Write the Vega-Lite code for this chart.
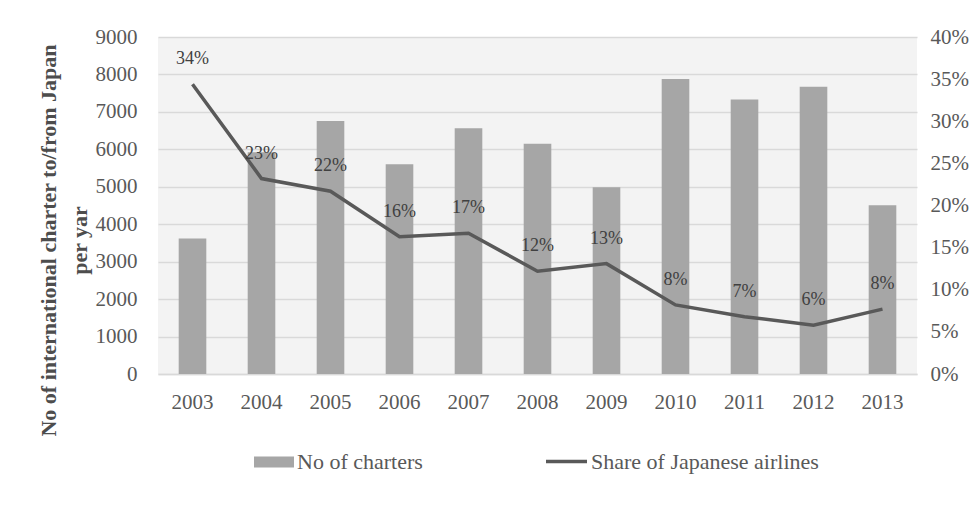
{
  "$schema": "https://vega.github.io/schema/vega-lite/v6.json",
  "width": 759,
  "height": 337,
  "autosize": {"type": "none"},
  "padding": {"left": 158, "top": 37, "right": 62, "bottom": 143},
  "background": "white",
  "config": {
    "font": "Liberation Serif",
    "view": {"stroke": null, "fill": "#f3f3f3"}
  },
  "data": {
    "values": [
      {"year": "2003", "charters": 3620, "share": 0.344},
      {"year": "2004", "charters": 5920, "share": 0.232},
      {"year": "2005", "charters": 6760, "share": 0.217},
      {"year": "2006", "charters": 5600, "share": 0.163},
      {"year": "2007", "charters": 6560, "share": 0.167},
      {"year": "2008", "charters": 6150, "share": 0.122},
      {"year": "2009", "charters": 4990, "share": 0.131},
      {"year": "2010", "charters": 7880, "share": 0.082},
      {"year": "2011", "charters": 7330, "share": 0.068},
      {"year": "2012", "charters": 7670, "share": 0.058},
      {"year": "2013", "charters": 4510, "share": 0.077}
    ]
  },
  "encoding": {
    "x": {
      "field": "year",
      "type": "ordinal",
      "scale": {"paddingInner": 0.6, "paddingOuter": 0.3},
      "axis": {
        "title": null,
        "labelAngle": 0,
        "labelFontSize": 21,
        "labelColor": "#595959",
        "labelPadding": 17,
        "ticks": false,
        "tickSize": 0,
        "domain": true,
        "domainColor": "#d9d9d9",
        "domainWidth": 1.5,
        "grid": false
      }
    }
  },
  "layer": [
    {
      "mark": {"type": "bar"},
      "encoding": {
        "y": {
          "field": "charters",
          "type": "quantitative",
          "scale": {"domain": [0, 9000], "nice": false},
          "axis": {
            "orient": "left",
            "values": [0, 1000, 2000, 3000, 4000, 5000, 6000, 7000, 8000, 9000],
            "format": "d",
            "grid": true,
            "gridColor": "#d9d9d9",
            "gridWidth": 1.5,
            "domain": false,
            "ticks": false,
            "tickSize": 0,
            "labelPadding": 21,
            "labelFontSize": 21,
            "labelColor": "#595959",
            "title": ["No of international charter to/from Japan", "per yar"],
            "titleFontSize": 22,
            "titleFontWeight": "bold",
            "titleColor": "#4d4d4d",
            "titleLineHeight": 31,
            "titleAngle": -90,
            "titleAlign": "center",
            "titleBaseline": "middle",
            "titleX": -110,
            "titleY": 203
          }
        },
        "fill": {
          "datum": "No of charters",
          "type": "nominal",
          "scale": {"range": ["#a6a6a6"]},
          "legend": {
            "title": null,
            "orient": "none",
            "legendX": 96,
            "legendY": 405,
            "padding": 0,
            "symbolType": "M-1,-0.275H1V0.275H-1Z",
            "symbolSize": 1600,
            "symbolStrokeWidth": 0,
            "labelFont": "Liberation Serif",
            "labelFontSize": 22,
            "labelColor": "#595959",
            "labelOffset": 3,
            "labelLimit": 400
          }
        }
      }
    },
    {
      "encoding": {
        "y": {
          "field": "share",
          "type": "quantitative",
          "scale": {"domain": [0, 0.4], "nice": false},
          "axis": {
            "orient": "right",
            "values": [0, 0.05, 0.1, 0.15, 0.2, 0.25, 0.3, 0.35, 0.4],
            "format": ".0%",
            "grid": false,
            "domain": false,
            "ticks": false,
            "tickSize": 0,
            "labelPadding": 13,
            "labelFontSize": 21,
            "labelColor": "#595959",
            "title": null
          }
        }
      },
      "layer": [
        {
          "mark": {"type": "line", "strokeWidth": 3.5},
          "encoding": {
            "stroke": {
              "datum": "Share of  Japanese airlines",
              "type": "nominal",
              "scale": {"range": ["#595959"]},
              "legend": {
                "title": null,
                "orient": "none",
                "legendX": 386,
                "legendY": 402,
                "padding": 0,
                "symbolType": "stroke",
                "symbolSize": 1681,
                "symbolStrokeWidth": 3.5,
                "labelFont": "Liberation Serif",
                "labelFontSize": 22,
                "labelColor": "#595959",
                "labelOffset": 2,
                "labelLimit": 400
              }
            }
          }
        },
        {
          "mark": {"type": "text", "dy": -25, "fontSize": 18, "color": "#404040", "font": "Liberation Serif"},
          "encoding": {
            "text": {"field": "share", "type": "quantitative", "format": ".0%"}
          }
        }
      ]
    }
  ],
  "resolve": {"scale": {"y": "independent"}}
}
